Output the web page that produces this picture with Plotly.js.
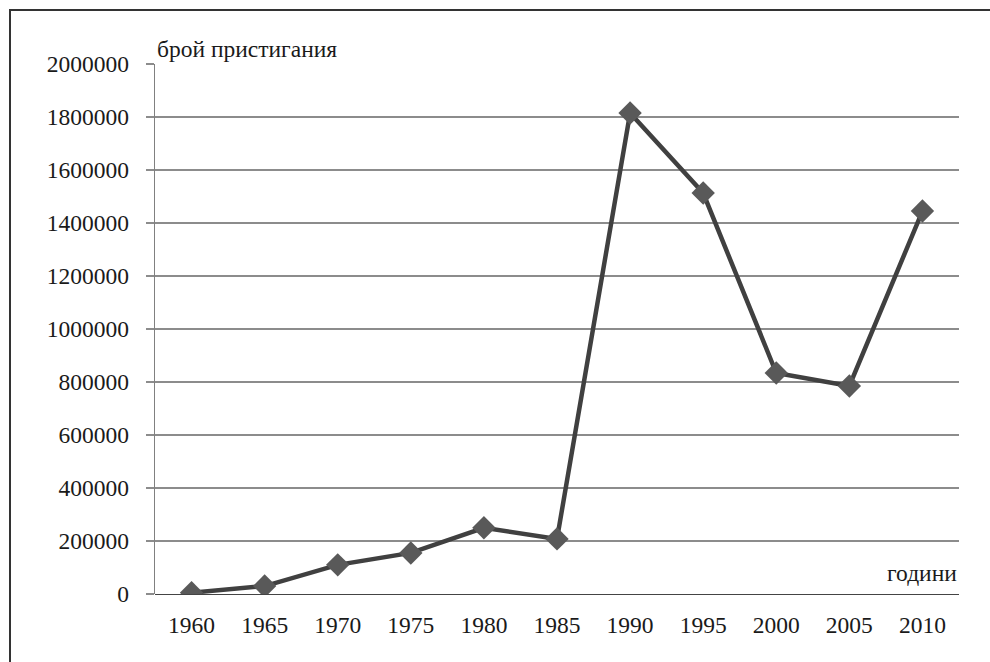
<!DOCTYPE html>
<html>
<head>
<meta charset="utf-8">
<script src="https://cdn.plot.ly/plotly-3.0.1.min.js"></script>
<style>
  html, body { margin: 0; padding: 0; background: #fff; overflow: hidden; }
  #chart { width: 990px; height: 662px; }
  #frame { position: absolute; left: 9px; top: 9px; width: 2000px; height: 2000px;
           border-left: 2px solid #333; border-top: 2px solid #333; pointer-events: none; }
  .t { position: absolute; top: 0px; font-size: 7px; line-height: 8px; color: #fff; white-space: nowrap; z-index: 5; }
</style>
</head>
<body>
<div id="chart"></div>
<div id="frame"></div>
<div class="t" style="left:100px;font-family:'Liberation Serif'">Liberation Serif 1960 години</div>
<div class="t" style="left:250px;font-family:'DejaVu Serif'">DejaVu Serif 1960 години</div>
<div class="t" style="left:400px;font-family:serif">generic serif 1960 години</div>
<div class="t" style="left:550px;font-family:'Times New Roman'">Times New Roman 1960 години</div>
<script>
const years = ['1960','1965','1970','1975','1980','1985','1990','1995','2000','2005','2010'];
const arrivals = [5000, 30000, 110000, 155000, 250000, 208000, 1815000, 1513000, 834000, 785000, 1445000];
const yTicks = [0, 200000, 400000, 600000, 800000, 1000000, 1200000, 1400000, 1600000, 1800000, 2000000];
const yTitle = 'брой пристигания';
const xTitle = 'години';

const font = {family: 'Liberation Serif', size: 23.5, color: '#1a1a1a'};

const trace = {
  x: years, y: arrivals, type: 'scatter', mode: 'lines+markers',
  line: {color: '#404040', width: 4.5},
  marker: {symbol: 'diamond', size: 18, color: '#595959'}
};

const layout = {
  width: 990, height: 662,
  margin: {l: 155, r: 31, t: 64, b: 68},
  showlegend: false,
  font: font,
  xaxis: {type: 'category', range: [-0.5, 10.5], showgrid: false, zeroline: false, ticks: '',
          ticklabelstandoff: 14, tickfont: font},
  yaxis: {range: [0, 2000000], tickvals: yTicks, ticktext: yTicks.map(String), gridcolor: '#8c8c8c',
          gridwidth: 1.4, showline: true, linecolor: '#808080', linewidth: 1.4,
          ticks: 'outside', ticklen: 8, tickcolor: '#8c8c8c', tickwidth: 1.4,
          ticklabelstandoff: 12, tickfont: font},
  annotations: [
    {text: yTitle, xref: 'paper', yref: 'paper', x: 0, y: 1, xanchor: 'left', yanchor: 'bottom',
     showarrow: false, font: font},
    {text: xTitle, xref: 'paper', yref: 'paper', x: 1, y: 0, xanchor: 'right', yanchor: 'bottom',
     yshift: 6, showarrow: false, font: font}
  ]
};
Plotly.newPlot('chart', [trace], layout, {displayModeBar: false, staticPlot: true});
</script>
</body>
</html>
